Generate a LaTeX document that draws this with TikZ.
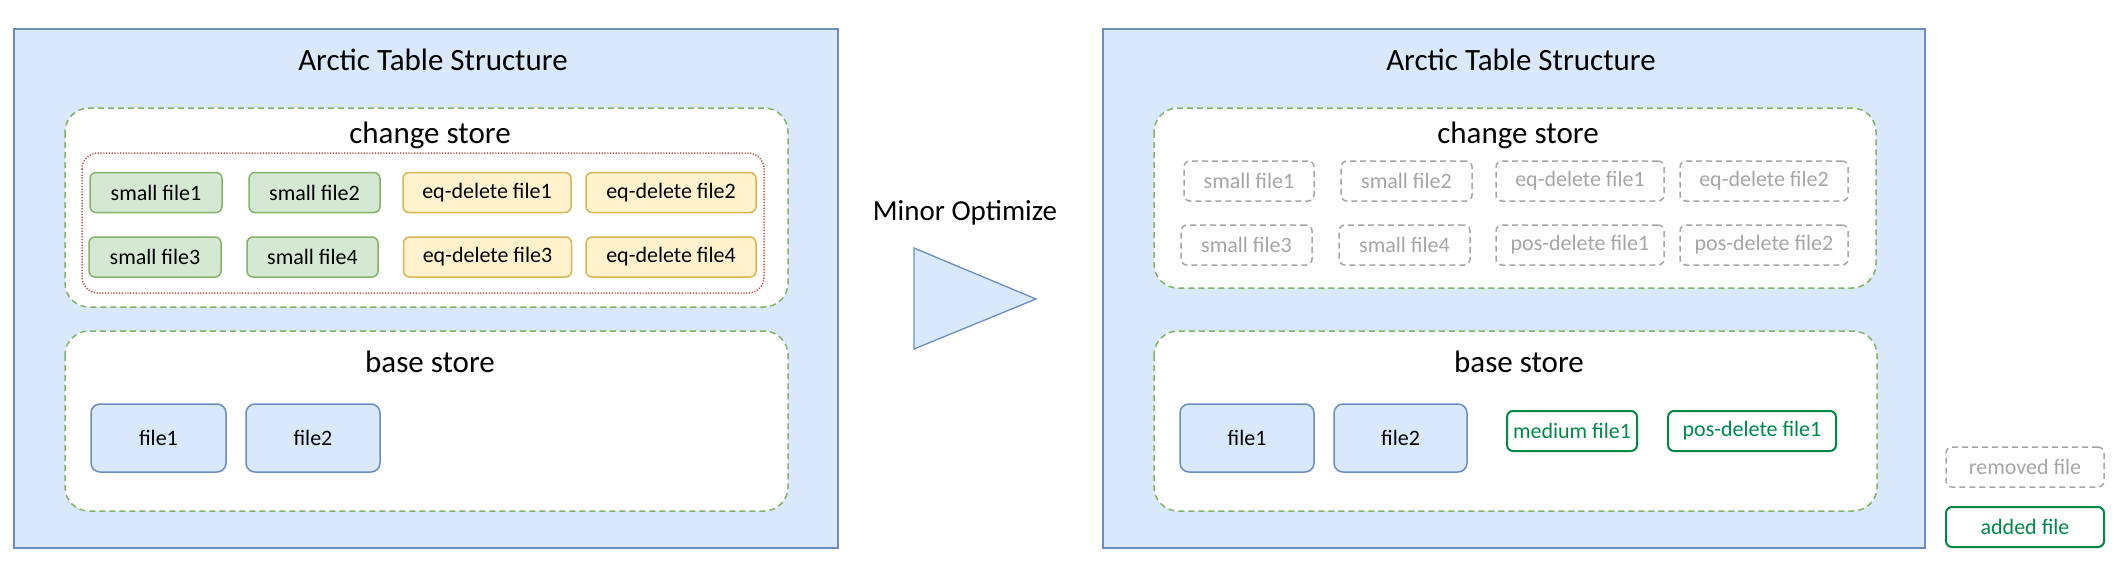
\documentclass[tikz,border=0pt]{standalone}
\usepackage{fontspec}
\setmainfont{Carlito}
\usetikzlibrary{calc}

\definecolor{tablefill}{HTML}{DAE8FC}
\definecolor{tabledraw}{HTML}{6C8EBF}
\definecolor{storedraw}{HTML}{82B366}
\definecolor{smallfill}{HTML}{D5E8D4}
\definecolor{eqfill}{HTML}{FFF2CC}
\definecolor{eqdraw}{HTML}{D6B656}
\definecolor{pickdraw}{HTML}{B85450}
\definecolor{remgray}{HTML}{A6A6A6}
\definecolor{addgreen}{HTML}{00884A}

\tikzset{
  tablebox/.style = {fill=tablefill, draw=tabledraw, line width=1.5pt},
  storebox/.style = {fill=white, draw=storedraw, line width=1.5pt, rounded corners=24pt,
                     dash pattern=on 6pt off 4pt},
  pickbox/.style  = {draw=pickdraw, line width=1.5pt, rounded corners=16pt,
                     dash pattern=on 1.2pt off 1.6pt},
  bigtext/.style  = {font=\fontsize{31}{36}\selectfont},
  filebox/.style  = {rounded corners=6pt, line width=1.5pt, minimum height=40pt,
                     inner sep=0pt, font=\fontsize{22}{26}\selectfont},
  smallfile/.style = {filebox, fill=smallfill, draw=storedraw},
  eqfile/.style    = {filebox, fill=eqfill, draw=eqdraw},
  basefile/.style  = {filebox, fill=tablefill, draw=tabledraw, rounded corners=9pt,
                      minimum height=68pt},
  removedfile/.style = {filebox, draw=remgray, text=remgray, dash pattern=on 6pt off 4pt},
  addedfile/.style   = {filebox, draw=addgreen, text=addgreen, line width=2pt}
}

\begin{document}
\begin{tikzpicture}[x=1pt, y=-1pt]
    \useasboundingbox (0,0) rectangle (2124,576);

    % before
    \draw[tablebox] (14,29) rectangle (838,548);
    \node[bigtext] (lefttitle) at (433,60) {Arctic Table Structure};

    \draw[storebox] (65,108) rectangle (788,307);
    \node[bigtext] (leftchange) at (430,135) {change store};
    \draw[pickbox] (82,153) rectangle (764,293);
    \def\rowa{192.5}
    \def\rowb{257}
    \node[smallfile, minimum width=132pt] (lsmall1) at (156,\rowa) {small file1};
    \node[smallfile, minimum width=131pt] (lsmall2) at (314.5,\rowa) {small file2};
    \node[eqfile, minimum width=168pt] (leq1) at (487,\rowa) {eq-delete file1};
    \node[eqfile, minimum width=170pt] (leq2) at (671,\rowa) {eq-delete file2};
    \node[smallfile, minimum width=132pt] (lsmall3) at (155,\rowb) {small file3};
    \node[smallfile, minimum width=131pt] (lsmall4) at (312.5,\rowb) {small file4};
    \node[eqfile, minimum width=168pt] (leq3) at (487.5,\rowb) {eq-delete file3};
    \node[eqfile, minimum width=170pt] (leq4) at (671,\rowb) {eq-delete file4};

    \draw[storebox] (65,331) rectangle (788,511);
    \node[bigtext] (leftbase) at (430,362) {base store};
    \node[basefile, minimum width=135pt] (lfile1) at (158.5,438) {file1};
    \node[basefile, minimum width=134pt] (lfile2) at (313,438) {file2};

    % step
    \node[font=\fontsize{29}{34}\selectfont] (minor) at (965,213) {Minor Optimize};
    \draw[tablebox, line width=1.3pt] (914,248) -- (1036,299) -- (914,349) -- cycle;

    % after
    \draw[tablebox] (1103,29) rectangle (1925,548);
    \node[bigtext] (righttitle) at (1521,60) {Arctic Table Structure};

    \draw[storebox] (1154,108) rectangle (1876,288);
    \node[bigtext] (rightchange) at (1518,135) {change store};
    \def\rowa{181}
    \def\rowb{245}
    \node[removedfile, minimum width=130pt] (rsmall1) at (1249,\rowa) {small file1};
    \node[removedfile, minimum width=131pt] (rsmall2) at (1406.5,\rowa) {small file2};
    \node[removedfile, minimum width=168pt] (req1) at (1580,\rowa) {eq-delete file1};
    \node[removedfile, minimum width=168pt] (req2) at (1764,\rowa) {eq-delete file2};
    \node[removedfile, minimum width=131pt] (rsmall3) at (1246.5,\rowb) {small file3};
    \node[removedfile, minimum width=131pt] (rsmall4) at (1404.5,\rowb) {small file4};
    \node[removedfile, minimum width=168pt] (rpos1) at (1580,\rowb) {pos-delete file1};
    \node[removedfile, minimum width=168pt] (rpos2) at (1764,\rowb) {pos-delete file2};

    \draw[storebox] (1154,331) rectangle (1877,511);
    \node[bigtext] (rightbase) at (1519,362) {base store};
    \node[basefile, minimum width=134pt] (rfile1) at (1247,438) {file1};
    \node[basefile, minimum width=133pt] (rfile2) at (1400.5,438) {file2};
    \node[addedfile, minimum width=130pt] (rmedium) at (1572,431) {medium file1};
    \node[addedfile, minimum width=168pt] (rposnew) at (1752,431) {pos-delete file1};

    % legend
    \node[removedfile, minimum width=158pt] (legremoved) at (2025,467) {removed file};
    \node[addedfile, minimum width=158pt] (legadded) at (2025,527) {added file};
\end{tikzpicture}
\end{document}
